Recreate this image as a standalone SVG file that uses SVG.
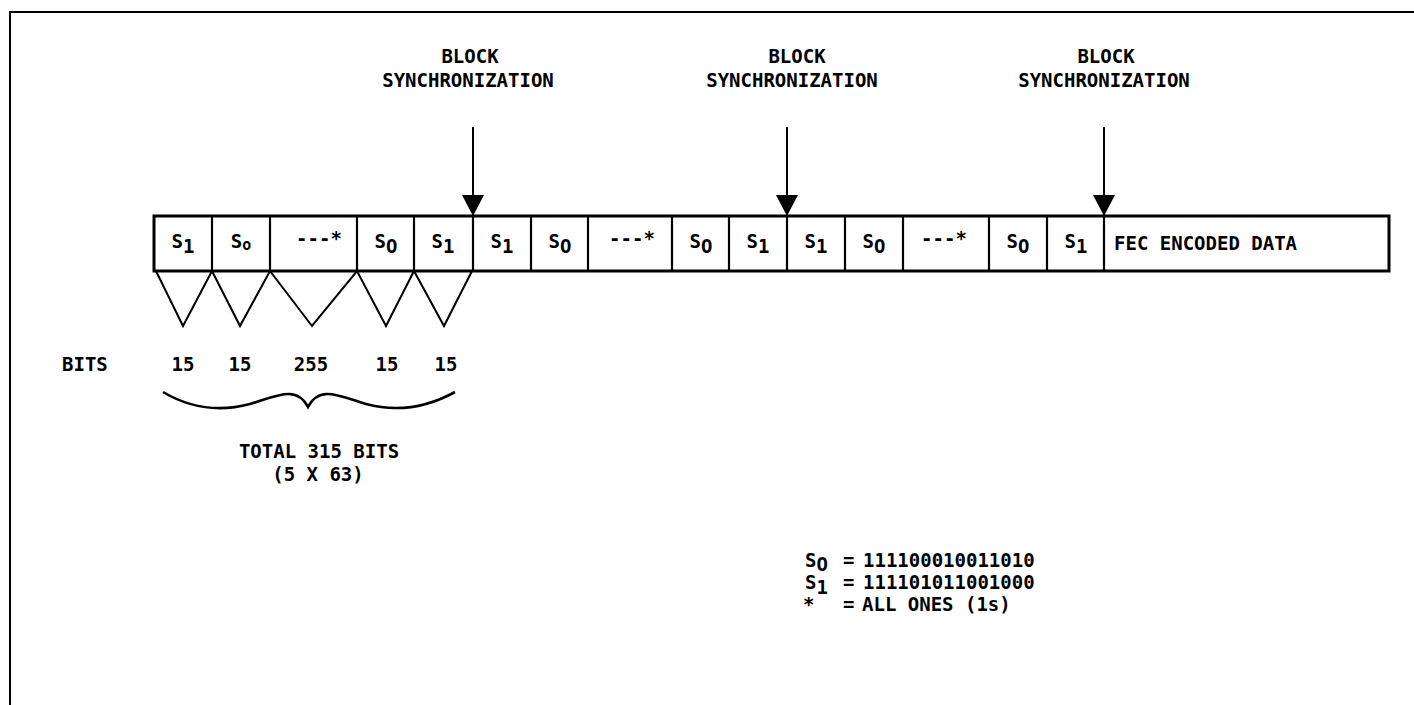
<svg xmlns="http://www.w3.org/2000/svg" width="1414" height="705" viewBox="0 0 1414 705">
<style>
text{font-family:"DejaVu Sans Mono","Liberation Mono",monospace;font-weight:bold;font-size:19px;fill:#000}
.c{text-anchor:middle}
.ln{stroke:#000;stroke-width:2;fill:none}
.box{stroke:#000;stroke-width:3;fill:#fff}
.div{stroke:#000;stroke-width:2.2}
</style>
<defs>
<marker id="ah" markerWidth="21" markerHeight="22" refX="21" refY="11" orient="auto" markerUnits="userSpaceOnUse" viewBox="0 0 21 22">
<path d="M0,0 L21,11 L0,22 Z" fill="#000"/>
</marker>
</defs>
<rect width="1414" height="705" fill="#fff"/>
<path class="ln" d="M10,705 L10,12 L1414,12" stroke-width="2.5"/>

<g id="labels">
<text class="c" x="470" y="63">BLOCK</text>
<text class="c" x="468" y="87">SYNCHRONIZATION</text>
<text class="c" x="797" y="63">BLOCK</text>
<text class="c" x="792" y="87">SYNCHRONIZATION</text>
<text class="c" x="1106" y="63">BLOCK</text>
<text class="c" x="1104" y="87">SYNCHRONIZATION</text>
</g>

<g id="frame-row">
<rect class="box" x="154" y="216" width="1235" height="55"/>
<g>
<line class="div" x1="212" y1="216" x2="212" y2="271"/>
<line class="div" x1="270" y1="216" x2="270" y2="271"/>
<line class="div" x1="357" y1="216" x2="357" y2="271"/>
<line class="div" x1="414" y1="216" x2="414" y2="271"/>
<line class="div" x1="473" y1="216" x2="473" y2="271"/>
<line class="div" x1="531" y1="216" x2="531" y2="271"/>
<line class="div" x1="588" y1="216" x2="588" y2="271"/>
<line class="div" x1="672" y1="216" x2="672" y2="271"/>
<line class="div" x1="729" y1="216" x2="729" y2="271"/>
<line class="div" x1="787" y1="216" x2="787" y2="271"/>
<line class="div" x1="845" y1="216" x2="845" y2="271"/>
<line class="div" x1="903" y1="216" x2="903" y2="271"/>
<line class="div" x1="989" y1="216" x2="989" y2="271"/>
<line class="div" x1="1047" y1="216" x2="1047" y2="271"/>
<line class="div" x1="1104" y1="216" x2="1104" y2="271"/>
</g>
<g id="cell-texts">
<text class="c" x="183" y="248">S<tspan dy="5">1</tspan></text>
<text class="c" x="241" y="248">S<tspan dy="2" font-size="15">o</tspan></text>
<text class="c" x="319" y="245">---*</text>
<text class="c" x="386" y="248">S<tspan dy="5">O</tspan></text>
<text class="c" x="443" y="248">S<tspan dy="5">1</tspan></text>
<text class="c" x="502" y="248">S<tspan dy="5">1</tspan></text>
<text class="c" x="560" y="248">S<tspan dy="5">O</tspan></text>
<text class="c" x="632" y="245">---*</text>
<text class="c" x="701" y="248">S<tspan dy="5">O</tspan></text>
<text class="c" x="758" y="248">S<tspan dy="5">1</tspan></text>
<text class="c" x="816" y="248">S<tspan dy="5">1</tspan></text>
<text class="c" x="874" y="248">S<tspan dy="5">O</tspan></text>
<text class="c" x="944" y="245">---*</text>
<text class="c" x="1018" y="248">S<tspan dy="5">O</tspan></text>
<text class="c" x="1076" y="248">S<tspan dy="5">1</tspan></text>
<text x="1114" y="250">FEC ENCODED DATA</text>
</g>
</g>

<g id="connectors">
<line class="ln" x1="473" y1="127" x2="473" y2="216" marker-end="url(#ah)"/>
<line class="ln" x1="787" y1="127" x2="787" y2="216" marker-end="url(#ah)"/>
<line class="ln" x1="1104" y1="127" x2="1104" y2="216" marker-end="url(#ah)"/>
</g>

<g id="bit-triangles">
<polyline class="ln" points="156,271 183,326 212,271 240,326 270,271 312,326 357,271 386,326 414,271 444,326 472,271"/>
</g>

<g id="bits">
<text x="62" y="371">BITS</text>
<text class="c" x="183" y="371">15</text>
<text class="c" x="240" y="371">15</text>
<text class="c" x="311" y="371">255</text>
<text class="c" x="387" y="371">15</text>
<text class="c" x="446" y="371">15</text>
</g>

<g id="brace">
<path d="M163,392 C190,408 220,412 250,404 C275,397 296,384 308,407 C320,384 341,397 366,404 C396,412 426,408 455,392" stroke="#000" stroke-width="2.6" fill="none"/>
</g>

<g id="total">
<text class="c" x="319" y="458">TOTAL 315 BITS</text>
<text class="c" x="318" y="481">(5 X 63)</text>
</g>

<g id="legend">
<text x="805" y="567">S<tspan dy="4">O</tspan></text>
<text x="843" y="567">=</text>
<text x="863" y="567">111100010011010</text>
<text x="805" y="589">S<tspan dy="5">1</tspan></text>
<text x="843" y="589">=</text>
<text x="863" y="589">111101011001000</text>
<text x="803" y="611">*</text>
<text x="843" y="611">=</text>
<text x="862" y="611">ALL ONES (1s)</text>
</g>
</svg>
